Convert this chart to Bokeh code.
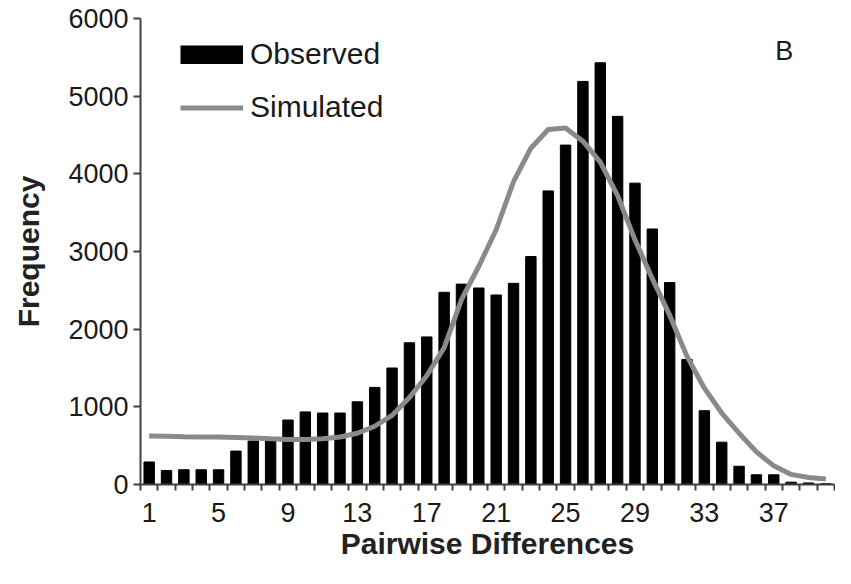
from bokeh.plotting import figure
from bokeh.models import Range1d, FixedTicker, Legend, LegendItem, Label
from bokeh.embed import file_html
from bokeh.resources import INLINE

# Data
diffs = list(range(1, 41))
observed = [290, 180, 190, 190, 190, 430, 560, 560, 830, 935,
            920, 920, 1065, 1250, 1500, 1825, 1900, 2475, 2580, 2530,
            2440, 2590, 2935, 3780, 4370, 5190, 5430, 4740, 3880, 3290,
            2600, 1610, 950, 545, 235, 125, 125, 30, 20, 10]
simulated = [625, 620, 615, 612, 610, 605, 598, 588, 580, 580,
             590, 612, 660, 750, 890, 1120, 1400, 1760, 2380, 2810,
             3280, 3900, 4330, 4570, 4590, 4420, 4150, 3720, 3150, 2650,
             2180, 1650, 1240, 920, 660, 420, 240, 130, 90, 70]
x_tick_labels = [1, 5, 9, 13, 17, 21, 25, 29, 33, 37]
y_ticks = [0, 1000, 2000, 3000, 4000, 5000, 6000]

FONT = "Liberation Sans"
TXT = "#1a1a1a"
AX = "#404040"

p = figure(width=835, height=568, output_backend="svg", toolbar_location=None,
           x_range=Range1d(0.5, 40.5), y_range=Range1d(0, 6000),
           min_border_left=140, min_border_right=1, min_border_top=18,
           min_border_bottom=84)
p.outline_line_color = None
p.xgrid.visible = False
p.ygrid.visible = False

p.vbar(x=diffs, top=observed, width=0.6, color="black")
line = p.line(x=diffs, y=simulated, line_color="#8a8a8a", line_width=5)
# legend proxy for the bars (a thick black swatch), nothing drawn in the plot
nan = float("nan")
bar_key = p.line(x=[nan, nan], y=[nan, nan], line_color="black", line_width=19)

# axes
p.xaxis.ticker = FixedTicker(ticks=x_tick_labels,
                             minor_ticks=[d - 0.5 for d in diffs] + [diffs[-1] + 0.5])
p.xaxis.major_tick_line_color = None
p.xaxis.major_tick_out = 6
p.xaxis.minor_tick_out = 6
p.xaxis.minor_tick_in = 0
p.xaxis.minor_tick_line_color = AX
p.xaxis.major_label_standoff = 12
p.xaxis.axis_label = "Pairwise Differences"
p.xaxis.axis_label_standoff = 2

p.yaxis.ticker = FixedTicker(ticks=y_ticks)
p.yaxis.major_tick_out = 7
p.yaxis.major_tick_in = 0
p.yaxis.minor_tick_line_color = None
p.yaxis.major_tick_line_color = AX
p.yaxis.major_label_standoff = 5
p.yaxis.axis_label = "Frequency"
p.yaxis.axis_label_standoff = 20

for ax in (p.xaxis, p.yaxis):
    ax.axis_line_color = AX
    ax.axis_line_width = 2
    ax.major_tick_line_width = 2
    ax.minor_tick_line_width = 2
    ax.major_label_text_font = FONT
    ax.major_label_text_font_size = "27px"
    ax.major_label_text_color = TXT
    ax.axis_label_text_font = FONT
    ax.axis_label_text_font_size = "30px"
    ax.axis_label_text_font_style = "bold"
    ax.axis_label_text_color = "#222222"

legend = Legend(items=[LegendItem(label="Observed", renderers=[bar_key], index=0),
                       LegendItem(label="Simulated", renderers=[line])],
                location=(40, 360), orientation="vertical",
                glyph_width=63, glyph_height=19, label_standoff=7,
                spacing=19, padding=0, margin=0,
                border_line_color=None, background_fill_alpha=0,
                label_text_font=FONT, label_text_font_size="30px",
                label_text_color=TXT)
p.add_layout(legend, "center")

p.add_layout(Label(x=37.6, y=5580, text="B", text_font=FONT,
                   text_font_size="27px", text_color=TXT,
                   text_align="center", text_baseline="middle"))

open("out.html", "w").write(file_html(p, INLINE))
